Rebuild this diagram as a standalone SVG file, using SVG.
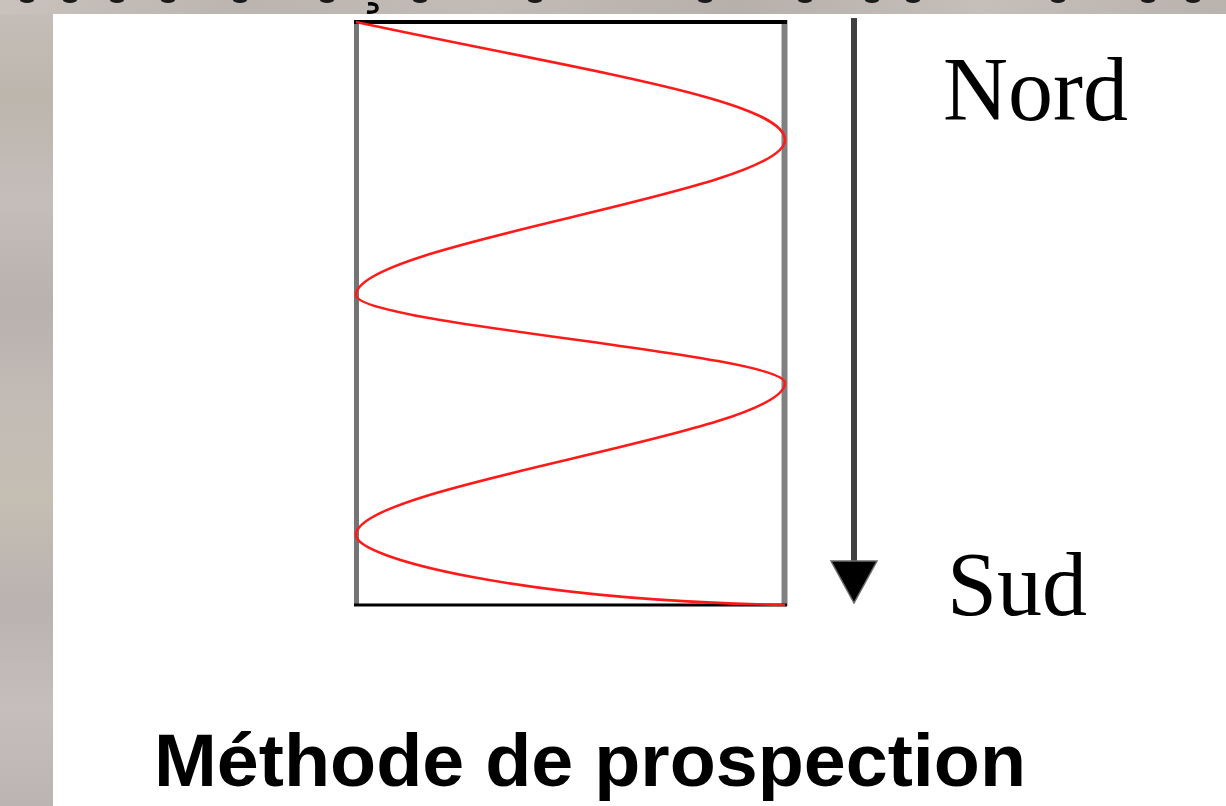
<svg xmlns="http://www.w3.org/2000/svg" width="1226" height="806" viewBox="0 0 1226 806">
  <defs>
    <linearGradient id="bgV" x1="0" y1="0" x2="0" y2="1">
      <stop offset="0" stop-color="#c6bfba"/>
      <stop offset="0.12" stop-color="#bdb6ad"/>
      <stop offset="0.25" stop-color="#c4bdba"/>
      <stop offset="0.38" stop-color="#b8b1ae"/>
      <stop offset="0.5" stop-color="#c2bcb6"/>
      <stop offset="0.62" stop-color="#c4beb3"/>
      <stop offset="0.75" stop-color="#bab2b0"/>
      <stop offset="0.88" stop-color="#c5bebc"/>
      <stop offset="1" stop-color="#bcb4b2"/>
    </linearGradient>
    <linearGradient id="bgH" x1="0" y1="0" x2="1" y2="0">
      <stop offset="0" stop-color="#c9c2bd"/>
      <stop offset="0.2" stop-color="#bcb4ae"/>
      <stop offset="0.4" stop-color="#c3bcb6"/>
      <stop offset="0.6" stop-color="#b7afa9"/>
      <stop offset="0.8" stop-color="#c6bfb9"/>
      <stop offset="1" stop-color="#bab3ad"/>
    </linearGradient>
    <style>
      .edgeL { stroke: #747474; stroke-width: 5; fill: none; }
      .edgeR { stroke: #808080; stroke-width: 6; fill: none; }
      .edgeH { stroke: #000000; fill: none; }
      .path { stroke: #ff1a1a; stroke-width: 2.6; fill: none; }
      .serif { font-family: "Liberation Serif", "Times New Roman", serif; font-size: 90px; fill: #000; }
      .title { font-family: "Liberation Sans", Arial, sans-serif; font-weight: bold; font-size: 74px; fill: #000; }
      .frag { fill: #1a1a1a; }
    </style>
  </defs>

  <!-- textured grey background -->
  <rect x="0" y="0" width="1226" height="806" fill="url(#bgV)"/>
  <rect x="0" y="0" width="1226" height="14" fill="url(#bgH)"/>
  <!-- cut-off fragments from the line above -->
  <g id="top-fragments" class="frag">
    <ellipse cx="27" cy="0" rx="7" ry="3"/>
    <ellipse cx="70" cy="0" rx="7" ry="3"/>
    <ellipse cx="117" cy="0" rx="7" ry="3"/>
    <ellipse cx="168" cy="0" rx="7" ry="3"/>
    <ellipse cx="240" cy="0" rx="7" ry="3"/>
    <ellipse cx="327" cy="0" rx="7" ry="3"/>
    <path d="M368 4 Q377 3 377 8 Q377 13 367 12" stroke="#000" stroke-width="3.5" fill="none"/>
    <ellipse cx="420" cy="0" rx="7" ry="3"/>
    <ellipse cx="535" cy="0" rx="7" ry="3"/>
    <ellipse cx="705" cy="0" rx="7" ry="3"/>
    <ellipse cx="805" cy="0" rx="7" ry="3"/>
    <ellipse cx="872" cy="0" rx="7" ry="3"/>
    <ellipse cx="913" cy="0" rx="7" ry="3"/>
    <ellipse cx="1058" cy="0" rx="7" ry="3"/>
    <ellipse cx="1148" cy="0" rx="7" ry="3"/>
    <ellipse cx="1193" cy="0" rx="7" ry="3"/>
  </g>

  <!-- white panel -->
  <rect id="panel" x="53" y="14" width="1173" height="792" fill="#ffffff"/>

  <!-- survey area rectangle -->
  <g id="zone">
    <line class="edgeL" x1="356.5" y1="20" x2="356.5" y2="606"/>
    <line class="edgeR" x1="784.5" y1="20" x2="784.5" y2="606"/>
    <line class="edgeH" x1="354" y1="22" x2="787" y2="22" stroke-width="4"/>
    <line class="edgeH" x1="354" y1="605" x2="787" y2="605" stroke-width="3"/>
  </g>

  <!-- zigzag prospection path -->
  <g id="prospection-path">
    <path class="path" d="M356 22
      C 580 70, 785 100, 785 140
      C 785 192, 356 243, 356 295
      C 356 324, 785 354, 785 383
      C 785 434, 356 484, 356 535
      C 356 558, 520 600, 785 605"/>
  </g>

  <!-- connectors: north to south arrow -->
  <g id="connectors">
    <line x1="854" y1="18" x2="854" y2="570" stroke="#404040" stroke-width="6"/>
    <polygon points="831,561 877,561 854,603" fill="#000" stroke="#6a6a6a" stroke-width="1.5" stroke-linejoin="miter"/>
  </g>

  <g id="label-nord">
    <text class="serif" x="943" y="120">Nord</text>
  </g>
  <g id="label-sud">
    <text class="serif" x="947" y="615">Sud</text>
  </g>
  <g id="title">
    <text class="title" x="154" y="786" textLength="872" lengthAdjust="spacingAndGlyphs">Méthode de prospection</text>
  </g>
</svg>
